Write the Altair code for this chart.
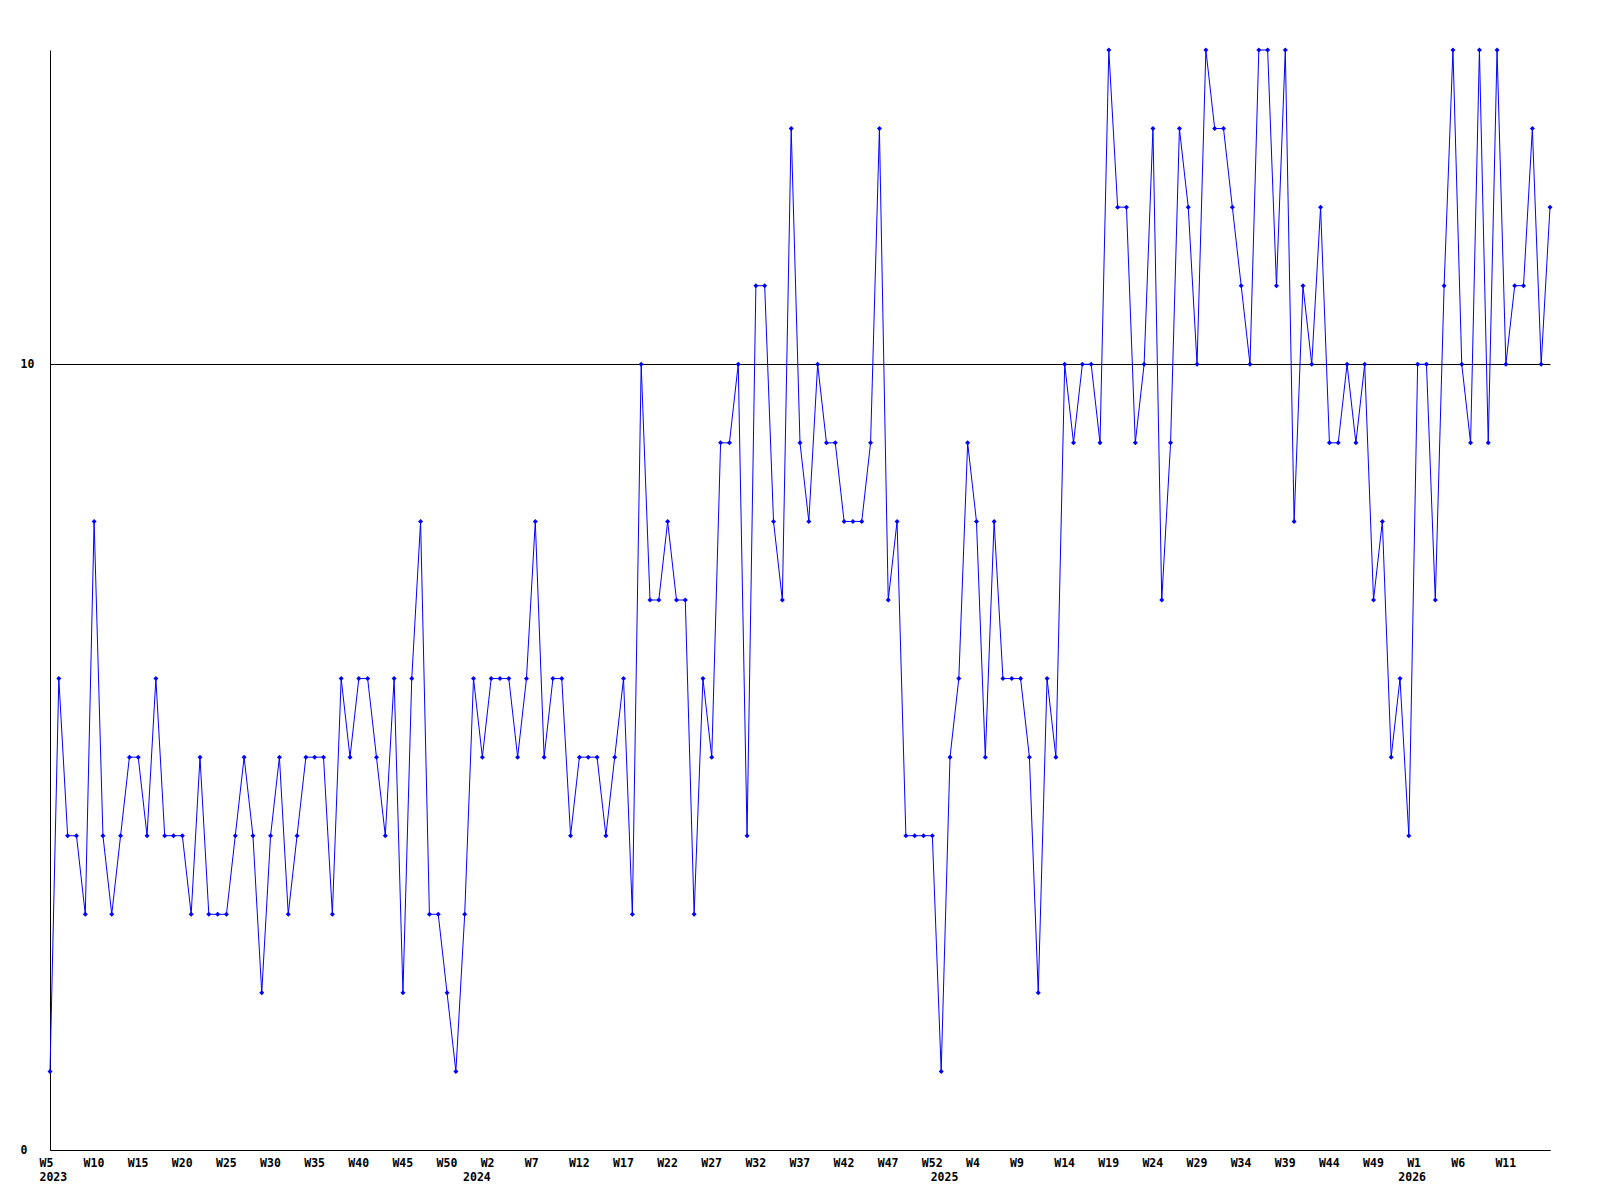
import altair as alt
import pandas as pd

# ---- data (weekly values) ----
years = [2023, 2024, 2025, 2026]
first_weeks = [5, 0, 0, 0]

values_2023 = [1, 6, 4, 4, 3, 8, 4, 3, 4, 5,
               5, 4, 6, 4, 4, 4, 3, 5, 3, 3,
               3, 4, 5, 4, 2, 4, 5, 3, 4, 5,
               5, 5, 3, 6, 5, 6, 6, 5, 4, 6,
               2, 6, 8, 3, 3, 2, 1, 3]
values_2024 = [6, 5, 6, 6, 6, 5, 6, 8, 5, 6,
               6, 4, 5, 5, 5, 4, 5, 6, 3, 10,
               7, 7, 8, 7, 7, 3, 6, 5, 9, 9,
               10, 4, 11, 11, 8, 7, 13, 9, 8, 10,
               9, 9, 8, 8, 8, 9, 13, 7, 8, 4,
               4, 4, 4]
values_2025 = [1, 5, 6, 9, 8, 5, 8, 6, 6, 6,
               5, 2, 6, 5, 10, 9, 10, 10, 9, 14,
               12, 12, 9, 10, 13, 7, 9, 13, 12, 10,
               14, 13, 13, 12, 11, 10, 14, 14, 11, 14,
               8, 11, 10, 12, 9, 9, 10, 9, 10, 7,
               8, 5, 6]
values_2026 = [4, 10, 10, 7, 11, 14, 10, 9, 14, 9,
               14, 10, 11, 11, 13, 10, 12]

y_tick_values = [0, 10]
label_every = 5

# ---- build table ----
rows = []
i = 0
for year, fw, vals in zip(years, first_weeks,
                          [values_2023, values_2024, values_2025, values_2026]):
    for k, v in enumerate(vals):
        rows.append({"idx": i, "year": year, "week": fw + k, "value": v,
                     "first": k == 0})
        i += 1
df = pd.DataFrame(rows)
n = len(df)

week_lbl = [("W%d" % r.week) if r.idx % label_every == 0 else "" for r in df.itertuples()]
year_lbl = [str(r.year) if r.first else "" for r in df.itertuples()]
x_ticks = sorted(set(list(range(0, n - 1, label_every)) +
                     [int(r.idx) for r in df.itertuples() if r.first]))

def js_arr(a):
    return "[" + ",".join("'%s'" % s for s in a) + "]"

label_expr = "[%s[datum.value], %s[datum.value]]" % (js_arr(week_lbl), js_arr(year_lbl))

FONT = "DejaVu Sans Mono"
BLUE = "#0000ff"

base = alt.Chart(df).encode(
    x=alt.X("idx:Q",
            scale=alt.Scale(domain=[0, n - 1], nice=False, zero=False),
            axis=alt.Axis(values=x_ticks, labelExpr=label_expr, title=None,
                          ticks=False, grid=False, labelAlign="left",
                          labelOffset=-11, labelPadding=7, labelFlush=False,
                          labelOverlap=False, labelLineHeight=14,
                          labelBaseline="top",
                          domainColor="black", domainWidth=1)),
    y=alt.Y("value:Q",
            scale=alt.Scale(domain=[0, 14], nice=False),
            axis=alt.Axis(values=y_tick_values, title=None, ticks=False,
                          grid=True, gridColor="black", gridWidth=1,
                          gridOpacity=1, labelAlign="left", labelPadding=30,
                          labelBaseline="middle",
                          domainColor="black", domainWidth=1)),
)

line = base.mark_line(color=BLUE, strokeWidth=1)
pts = base.mark_point(shape="diamond", filled=True, size=25, color=BLUE, opacity=1)

chart = (line + pts).properties(
    width=1500, height=1100,
    autosize=alt.AutoSizeParams(type="none"),
    padding={"left": 42, "top": 42, "right": 42, "bottom": 60},
    background="white",
).configure_view(stroke=None).configure_axis(
    labelFont=FONT, labelFontSize=11.5, labelFontWeight="bold", labelColor="black"
)

chart.save("out.html", embed_options={"renderer": "svg", "actions": False})
